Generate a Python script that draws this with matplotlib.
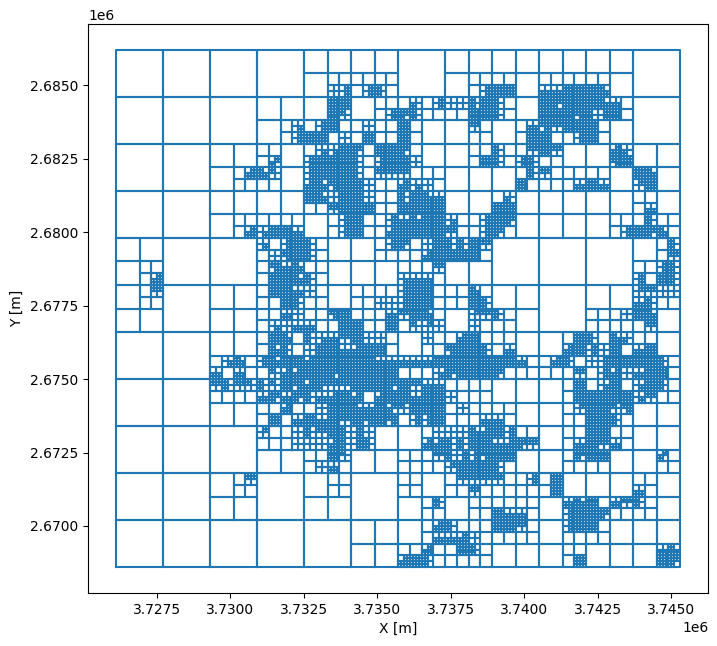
import numpy as np
import matplotlib
matplotlib.use("Agg")
import matplotlib.pyplot as plt
from matplotlib.collections import LineCollection

# Quadtree mesh layout, one character per 400 m square, rows from north to south.
# A: inside a 1600 m cell, B: inside an 800 m cell, -: a 400 m cell,
# hex digit: four 200 m cells, the set bits (1 NW, 2 NE, 4 SW, 8 SE) marking
# those further divided into 100 m cells.
mesh_rows = [
    "AAAA AAAA AAAA AAAA BBBB BBBB AAAA BBBB BBBB BBBB BBBB AAAA",
    "AAAA AAAA AAAA AAAA BBBB BBBB AAAA BBBB BBBB BBBB BBBB AAAA",
    "AAAA AAAA AAAA AAAA BB-- ---- AAAA BB-- --BB ---- --BB AAAA",
    "AAAA AAAA AAAA AAAA BB0a -a5- AAAA BB-a ffBB ccff fdBB AAAA",
    "AAAA AAAA AAAA BBBB BBff BB-- -4-a 005f 5-BB f7ff fdc- AAAA",
    "AAAA AAAA AAAA BBBB BBf1 BB-a 75-- --ff 5-BB fffb 5af- AAAA",
    "AAAA AAAA AAAA BB-8 -af- -0-- f-BB BB3- BB-c b3ff f-BB AAAA",
    "AAAA AAAA AAAA BB-a ff-0 -f-- f-BB BB-- BB-f f--a f-BB AAAA",
    "AAAA AAAA BBBB --BB -88f 7-ff 7-BB BB-- 5--3 f3BB BBe4 BBBB",
    "AAAA AAAA BBBB -6BB afff 5-af f0BB BB-f 5-a5 --BB BBbf BBBB",
    "AAAA AAAA BB-e d1BB afff 5-33 3--- BBBB BB-5 3--- --BB fdBB",
    "AAAA AAAA BB-- --BB edbf f0-- e80- BBBB BBf- ---c fcBB 2fBB",
    "AAAA AAAA BBBB BBBB fd0f f0-- 5fdc BBBB -4BB BBBB BBBB --BB",
    "AAAA AAAA BBBB BBBB --3f ff-- ffff BBBB ffBB BBBB BBBB -cBB",
    "AAAA AAAA BB-- ---- BB-a f--a cdff 8--a f7BB BBBB BB-- -5--",
    "AAAA AAAA BB-e 8ffc BB-a f--e ffff 3--a 7-BB BBBB BB-a f7d-",
    "BBBB AAAA AAAA 8-af 5-BB BB-a 7-0f 55f3 AAAA AAAA AAAA BB-5",
    "BBBB AAAA AAAA -0bf 5-BB BB-- --ef fff- AAAA AAAA AAAA BB-3",
    "BB-- AAAA AAAA -bcd --BB BBBB ---3 BBBB AAAA AAAA AAAA --a5",
    "BB-e AAAA AAAA -ffd 5-BB BBBB 8cc- BBBB AAAA AAAA AAAA a-f5",
    "BB-3 AAAA BBBB -ffc 0-BB ---- aff- --d- BBBB AAAA BBBB 2300",
    "BB-- AAAA BBBB --f5 --BB --00 aff- --f5 BBBB AAAA BBBB c5--",
    "BBBB AAAA BBBB --c0 --bf ---c 3fd- BB23 5-BB AAAA ---0 fdBB",
    "BBBB AAAA BBBB -80c c--f f--f -120 BB0- --BB AAAA ---- -3BB",
    "AAAA AAAA BBBB -fd- 58c3 f00- BB0- -ef- --BB BB-f 5-d4 --BB",
    "AAAA AAAA BBBB -d5- 0ffc eff- BB-- bff5 -cBB BBef a0f- cfBB",
    "AAAA AAAA -8d- adff efff ffcc cccf ffff ffc- -e5- 0aff ff5-",
    "AAAA AAAA c-c- -1ee ff7f ffff ---8 7fff 7--- ---3 -ae0 cff-",
    "AAAA AAAA 3531 51fb e733 fff7 f3cc ---- BBBB BB-f -8f- 8f5-",
    "AAAA AAAA ---- c7c7 5cef e-ef fcff 0--- BBBB BB-f ffff 83--",
    "AAAA AAAA BBBB --e- -0ff dcf6 1fff -0-- --BB BB-2 ff1b BBBB",
    "AAAA AAAA BBBB -f-c fcf3 fbfb -aaf ---c c-BB BB-- ff5- BBBB",
    "AAAA AAAA AAAA 2--0 53f5 a0BB BB-0 00de fa-- BB-- ff-- BBBB",
    "AAAA AAAA AAAA ---0 00e5 a5BB BBee 55ff ce73 BB-c f3c- BBBB",
    "AAAA AAAA AAAA BBBB --f1 BBBB ---3 5aab ffBB BB-7 ffBB BB6-",
    "AAAA AAAA AAAA BBBB -0c- BBBB ---- 2fff 5-BB BB-- --BB BB--",
    "AAAA AAAA BB-3 AAAA BB-- AAAA --BB -333 3--a -fBB BBBB --BB",
    "AAAA AAAA BB-- AAAA BB-- AAAA --BB --3- ---- -fBB BBBB c-BB",
    "AAAA AAAA BBBB AAAA BBBB AAAA BB-5 BB-- ---- BBcd f-c3 5-BB",
    "AAAA AAAA BBBB AAAA BBBB AAAA BB-- BB-- fcc- BBaf f7-- --BB",
    "AAAA AAAA AAAA AAAA AAAA BBBB BB-e 5--- ff3- BBaf f-BB BBBB",
    "AAAA AAAA AAAA AAAA AAAA BBBB BB-c ce0- ---- BB-- --BB BBBB",
    "AAAA AAAA AAAA AAAA AAAA BBBB --e- -f5- BBBB BB-- BBBB BBcd",
    "AAAA AAAA AAAA AAAA AAAA BBBB ef5- ---- BBBB BB-f BBBB BBf7",
]

x_origin = 3.726115e6
y_top = 2.6862e6
unit = 400.0


def cell_outline(x, y, size):
    # Closed square outline, drawn as its own path.
    return [(x, y), (x + size, y), (x + size, y + size), (x, y + size), (x, y)]


outlines = []
for r, line in enumerate(mesh_rows):
    row = line.replace(" ", "")
    for c, ch in enumerate(row):
        x = x_origin + c * unit
        y = y_top - (r + 1) * unit
        if ch == "A":
            if c % 4 == 0 and r % 4 == 0:
                outlines.append(cell_outline(x, y_top - (r + 4) * unit, 4 * unit))
        elif ch == "B":
            if c % 2 == 0 and r % 2 == 0:
                outlines.append(cell_outline(x, y_top - (r + 2) * unit, 2 * unit))
        elif ch == "-":
            outlines.append(cell_outline(x, y, unit))
        else:
            mask = int(ch, 16)
            half = unit / 2
            quarters = [(0, half, 1), (half, half, 2), (0, 0, 4), (half, 0, 8)]
            for dx, dy, bit in quarters:
                if mask & bit:
                    for i in range(2):
                        for j in range(2):
                            outlines.append(cell_outline(x + dx + i * half / 2,
                                                         y + dy + j * half / 2,
                                                         half / 2))
                else:
                    outlines.append(cell_outline(x + dx, y + dy, half))

fig = plt.figure(figsize=(7.17, 6.46), dpi=100)
ax = fig.add_axes([88.0 / 717, 1 - 593.0 / 646, 620.4 / 717, 569.0 / 646])
mesh = LineCollection(outlines, colors="C0", linewidths=1.5,
                      capstyle="projecting", joinstyle="round")
ax.add_collection(mesh)
ax.autoscale_view()
ax.set_xlabel("X [m]")
ax.set_ylabel("Y [m]")
fig.savefig("out.png", dpi=100)
